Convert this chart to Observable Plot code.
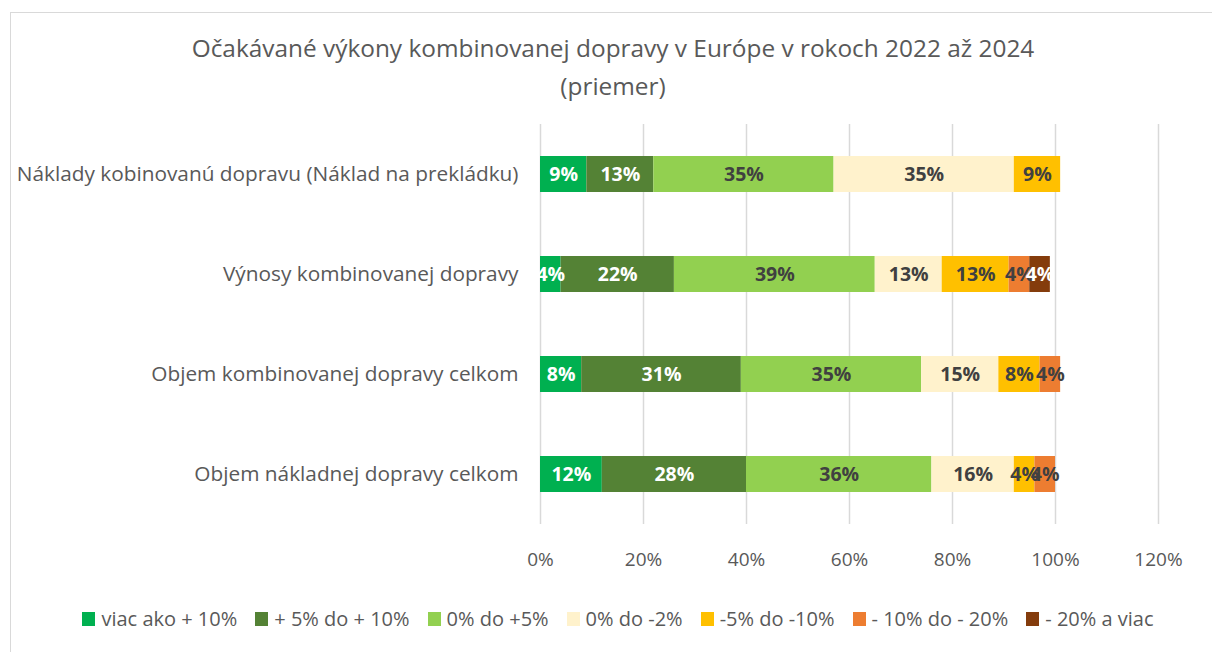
<!DOCTYPE html>
<html>
<head>
<meta charset="utf-8">
<script src="https://cdn.jsdelivr.net/npm/d3@7"></script>
<script src="https://cdn.jsdelivr.net/npm/@observablehq/plot@0.6"></script>
<style>
  html, body { margin: 0; padding: 0; background: #fff; }
  body { width: 1212px; height: 652px; position: relative; overflow: hidden; font-family: "Open Sans", sans-serif; }
  #frame { position: absolute; left: 10px; top: 12px; width: 1220px; height: 700px; border: 1px solid #d9d9d9; box-sizing: border-box; }
  #title { position: absolute; left: 0; width: 1226px; top: 29px; text-align: center; color: #595959; font-size: 24.4px; line-height: 38px; }
  #chart { position: absolute; left: 0; top: 120px; }
  #legend { position: absolute; left: 0; width: 1236px; top: 605px; display: flex; justify-content: center; gap: 18px; color: #595959; font-size: 20px; }
  #legend .item { display: flex; align-items: center; gap: 6px; white-space: nowrap; }
  #legend .sw { width: 13px; height: 14px; display: inline-block; }
</style>
</head>
<body>
<div id="frame"></div>
<div id="title">Očakávané výkony kombinovanej dopravy v Európe v rokoch 2022 až 2024<br>(priemer)</div>
<div id="chart"></div>
<div id="legend"></div>
<script>
const categories = [
  "Náklady kobinovanú dopravu (Náklad na prekládku)",
  "Výnosy kombinovanej dopravy",
  "Objem kombinovanej dopravy celkom",
  "Objem nákladnej dopravy celkom"
];
const seriesNames = [
  "viac ako + 10%",
  "+ 5% do + 10%",
  "0% do +5%",
  "0% do -2%",
  "-5% do -10%",
  "- 10% do - 20%",
  "- 20% a viac"
];
const viacAko10 = [9, 4, 8, 12];
const plus5do10 = [13, 22, 31, 28];
const nula5 = [35, 39, 35, 36];
const nulaMinus2 = [35, 13, 15, 16];
const minus5do10 = [9, 13, 8, 4];
const minus10do20 = [0, 4, 4, 4];
const minus20viac = [0, 4, 0, 0];
const xTicks = [0, 20, 40, 60, 80, 100, 120];

const seriesValues = [viacAko10, plus5do10, nula5, nulaMinus2, minus5do10, minus10do20, minus20viac];
const colors = ["#00B050", "#548235", "#92D050", "#FFF2CC", "#FFC000", "#ED7D31", "#843C0C"];
const labelColors = ["#ffffff", "#ffffff", "#404040", "#404040", "#404040", "#404040", "#ffffff"];

const data = [];
seriesNames.forEach((s, si) => {
  categories.forEach((c, ci) => {
    const v = seriesValues[si][ci];
    if (v > 0) data.push({cat: c, series: s, si, value: v});
  });
});

const chart = Plot.plot({
  width: 1212,
  height: 460,
  marginLeft: 540,
  marginRight: 54,
  marginTop: 4,
  marginBottom: 56,
  style: { fontFamily: "Open Sans, sans-serif", fontSize: "17px", color: "#595959", background: "transparent" },
  x: { domain: [0, 120], ticks: xTicks, tickFormat: d => d + "%", grid: false, label: null },
  y: { domain: categories, paddingInner: 0.64, paddingOuter: 0.32, label: null },
  color: { domain: seriesNames, range: colors },
  marks: [
    Plot.gridX(xTicks, { stroke: "#d9d9d9", strokeOpacity: 1, strokeWidth: 1.5 }),
    Plot.axisX({ ticks: xTicks, tickFormat: d => d + "%", tickSize: 0, tickPadding: 28, fill: "#595959", fontSize: 19, label: null }),
    Plot.axisY({ tickSize: 0, tickPadding: 22, fill: "#595959", fontSize: 20.8, label: null }),
    Plot.barX(data, Plot.stackX({ x: "value", y: "cat", fill: "series", order: seriesNames })),
    Plot.text(data, Plot.stackX({ x: "value", y: "cat", z: "series", order: seriesNames,
      text: d => d.value + "%", fill: d => labelColors[d.si], fontWeight: "bold", fontSize: 19.5 }))
  ]
});
document.getElementById("chart").appendChild(chart);

const legend = document.getElementById("legend");
seriesNames.forEach((s, i) => {
  const item = document.createElement("div");
  item.className = "item";
  const sw = document.createElement("span");
  sw.className = "sw";
  sw.style.background = colors[i];
  const t = document.createElement("span");
  t.textContent = s;
  item.appendChild(sw);
  item.appendChild(t);
  legend.appendChild(item);
});
</script>
</body>
</html>
